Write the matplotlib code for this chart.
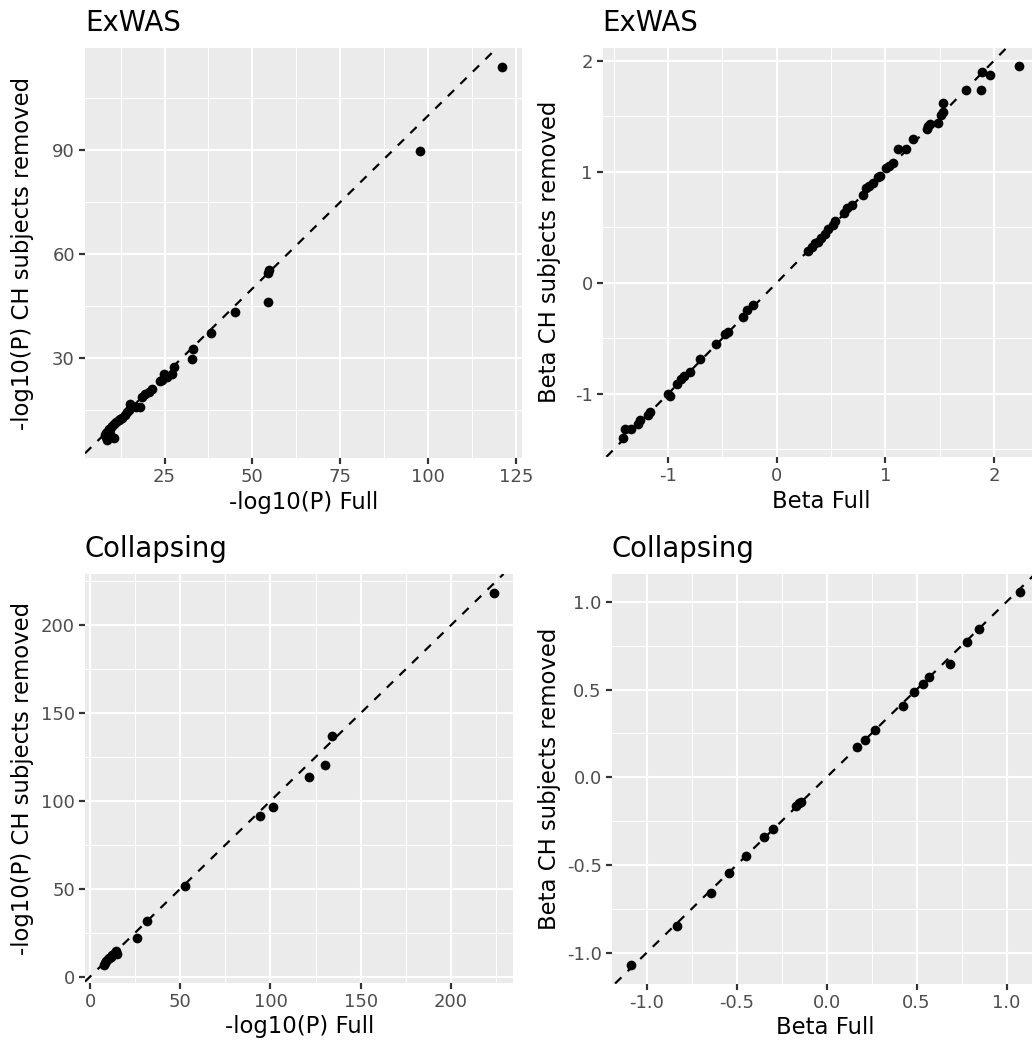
import numpy as np
import matplotlib
matplotlib.use("Agg")
import matplotlib.pyplot as plt
from matplotlib.ticker import MultipleLocator, FormatStrFormatter

# ExWAS, -log10(P)
exwas_p_full = [121.0, 97.6, 54.8, 54.5, 54.5, 45.1, 38.2, 33.1, 32.8, 27.6,
                27.0, 25.6, 24.9, 24.2, 23.6, 21.4, 20.5, 19.5, 18.6, 18.1,
                17.0, 15.3, 14.8, 14.3, 13.6, 12.9, 12.3, 11.9, 11.3, 10.5,
                10.0, 9.6, 9.1, 8.6, 8.2, 8.2, 8.6, 10.5, 9.6, 8.0]
exwas_p_removed = [114.1, 89.8, 55.3, 54.4, 46.0, 43.3, 37.1, 32.4, 29.6, 27.2,
                   25.3, 24.3, 25.2, 23.6, 23.2, 21.0, 20.2, 19.6, 18.6, 15.8,
                   15.8, 16.6, 14.8, 14.3, 13.4, 12.6, 12.3, 12.0, 11.4, 10.8,
                   10.2, 9.3, 9.3, 8.6, 8.1, 7.1, 6.3, 6.9, 7.8, 7.6]

# ExWAS, beta
exwas_beta_full = [-1.42, -1.40, -1.34, -1.28, -1.26, -1.19, -1.17, -1.00, -0.98, -0.92,
                   -0.88, -0.85, -0.80, -0.71, -0.56, -0.48, -0.45, -0.31, -0.27, -0.22,
                   0.29, 0.32, 0.35, 0.38, 0.41, 0.44, 0.47, 0.52, 0.54, 0.62,
                   0.65, 0.69, 0.79, 0.82, 0.85, 0.89, 0.93, 0.95, 1.01, 1.03,
                   1.07, 1.12, 1.19, 1.25, 1.38, 1.39, 1.41, 1.48, 1.51, 1.53,
                   1.53, 1.74, 1.88, 1.89, 1.96, 2.23]
exwas_beta_removed = [-1.40, -1.32, -1.32, -1.27, -1.24, -1.19, -1.16, -1.00, -1.02, -0.91,
                      -0.87, -0.84, -0.80, -0.69, -0.55, -0.46, -0.44, -0.31, -0.25, -0.20,
                      0.29, 0.32, 0.36, 0.37, 0.40, 0.44, 0.48, 0.52, 0.56, 0.63,
                      0.67, 0.70, 0.79, 0.85, 0.87, 0.90, 0.95, 0.96, 1.03, 1.05,
                      1.08, 1.20, 1.20, 1.29, 1.38, 1.41, 1.43, 1.44, 1.51, 1.54,
                      1.62, 1.74, 1.74, 1.90, 1.87, 1.95]

# Collapsing, -log10(P)
coll_p_full = [223.8, 133.9, 130.0, 121.3, 101.5, 94.2, 52.7, 31.6, 26.2,
               8.0, 8.3, 9.0, 9.8, 10.6, 11.5, 12.3, 13.2, 14.0, 14.5, 14.8]
coll_p_removed = [218.6, 136.9, 120.6, 113.6, 96.4, 91.6, 51.4, 31.7, 22.2,
                  6.8, 8.0, 8.9, 9.8, 10.7, 11.3, 12.1, 12.8, 13.6, 14.6, 13.0]

# Collapsing, beta
coll_beta_full = [-1.086, -0.831, -0.643, -0.545, -0.447, -0.347, -0.295, -0.172, -0.153, -0.144,
                  0.170, 0.216, 0.268, 0.425, 0.484, 0.534, 0.567, 0.683, 0.779, 0.848, 1.075]
coll_beta_removed = [-1.069, -0.847, -0.657, -0.543, -0.446, -0.338, -0.296, -0.163, -0.148, -0.139,
                     0.171, 0.213, 0.270, 0.408, 0.484, 0.532, 0.570, 0.644, 0.773, 0.843, 1.054]

plt.rcParams['axes.unicode_minus'] = False
plt.rcParams['font.family'] = 'DejaVu Sans'

W, H = 1032, 1040
fig = plt.figure(figsize=(W / 100, H / 100), dpi=100)


def expand(vals):
    # ggplot-style 5% padding on each side
    lo, hi = min(vals), max(vals)
    d = (hi - lo) * 0.05
    return lo - d, hi + d


def draw_panel(box, x, y, title, xlabel, ylabel, xstep, ystep, fmt, ylab_x, xlab_y):
    left, top, right, bottom = box
    ax = fig.add_axes([left / W, 1 - bottom / H, (right - left) / W, (bottom - top) / H])
    ax.set_facecolor('#EBEBEB')
    for s in ax.spines.values():
        s.set_visible(False)
    ax.set_xlim(*expand(x))
    ax.set_ylim(*expand(y))
    ax.axline((0, 0), slope=1, color='black', lw=1.58, dashes=(4, 4), zorder=2)
    ax.plot(x, y, 'o', color='black', ms=7.0, mew=0, zorder=3)
    ax.xaxis.set_major_locator(MultipleLocator(xstep))
    ax.xaxis.set_minor_locator(MultipleLocator(xstep / 2))
    ax.yaxis.set_major_locator(MultipleLocator(ystep))
    ax.yaxis.set_minor_locator(MultipleLocator(ystep / 2))
    ax.xaxis.set_major_formatter(FormatStrFormatter(fmt))
    ax.yaxis.set_major_formatter(FormatStrFormatter(fmt))
    ax.grid(which='major', color='white', lw=1.58)
    ax.grid(which='minor', color='white', lw=0.79)
    ax.set_axisbelow(True)
    ax.tick_params(which='major', length=4.05, width=1.58, color='#333333',
                   labelsize=13, labelcolor='#4D4D4D', pad=3.2)
    ax.tick_params(which='minor', length=0)
    ax.set_title(title, loc='left', fontsize=19.8, pad=12.1)
    ax.set_xlabel(xlabel, fontsize=16.4, va='top')
    ax.xaxis.set_label_coords((left + right) / 2 / W, 1 - xlab_y / H, transform=fig.transFigure)
    ax.set_ylabel(ylabel, fontsize=16.4)
    ax.yaxis.set_label_coords(ylab_x / W, 1 - (top + bottom) / 2 / H, transform=fig.transFigure)
    return ax


draw_panel((85, 48.3, 521.7, 458.3), exwas_p_full, exwas_p_removed, 'ExWAS',
           '-log10(P) Full', '-log10(P) CH subjects removed', 25, 30, '%d', 34, 490.5)
draw_panel((602.7, 47.6, 1038.8, 456.8), exwas_beta_full, exwas_beta_removed, 'ExWAS',
           'Beta Full', 'Beta CH subjects removed', 1, 1, '%d', 561, 490.5)
draw_panel((85, 574, 513.3, 983.3), coll_p_full, coll_p_removed, 'Collapsing',
           '-log10(P) Full', '-log10(P) CH subjects removed', 50, 50, '%d', 34, 1015.5)
draw_panel((611.7, 573.7, 1039.5, 983.5), coll_beta_full, coll_beta_removed, 'Collapsing',
           'Beta Full', 'Beta CH subjects removed', 0.5, 0.5, '%.1f', 561, 1015.5)

fig.savefig('out.png', dpi=100, facecolor='white')
